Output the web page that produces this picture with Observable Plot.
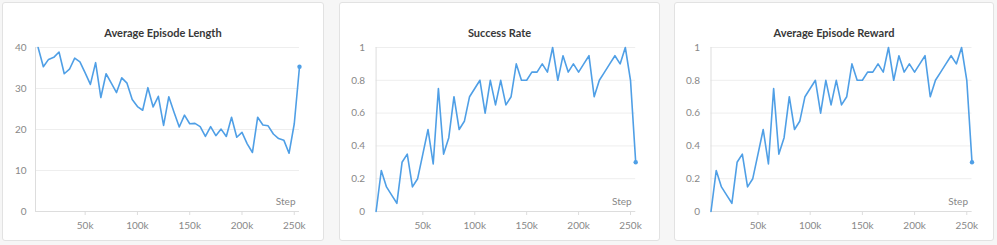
<!DOCTYPE html>
<html><head><meta charset="utf-8">
<script src="https://cdn.jsdelivr.net/npm/d3@7"></script>
<script src="https://cdn.jsdelivr.net/npm/@observablehq/plot@0.6"></script>
<style>
body{margin:0;background:#f6f6f6;width:997px;height:245px;position:relative;overflow:hidden;font-family:Lato,"Noto Sans",sans-serif}
.card{position:absolute;top:2px;height:239px;background:#fff;border:1px solid #e2e2e2;border-radius:3px;box-sizing:border-box}
.title{position:absolute;top:23px;left:0;right:0;text-align:center;font-weight:bold;font-size:11px;color:#383838}
.card svg{position:absolute;left:0;top:0;background:transparent}
</style></head><body>
<div class="card" id="c1" style="left:2px;width:322px"><div class="title">Average Episode Length</div></div>
<div class="card" id="c2" style="left:339px;width:321px"><div class="title">Success Rate</div></div>
<div class="card" id="c3" style="left:674px;width:320px"><div class="title">Average Episode Reward</div></div>
<script>
const steps = [5000,10000,15000,20000,25000,30000,35000,40000,45000,50000,
  55000,60000,65000,70000,75000,80000,85000,90000,95000,100000,
  105000,110000,115000,120000,125000,130000,135000,140000,145000,150000,
  155000,160000,165000,170000,175000,180000,185000,190000,195000,200000,
  205000,210000,215000,220000,225000,230000,235000,240000,245000,250000,255000];
const episodeLength = [40,35.3,37.1,37.6,38.9,33.6,34.7,37.4,36.5,33.8,
  31,36.3,27.8,33.6,31.3,29,32.6,31.3,27.3,25.6,
  24.7,30.2,25.5,28.1,21,28,24.2,20.6,23.5,21.4,
  21.5,20.7,18.3,20.7,18.5,20.1,18.3,23,18.1,19.3,
  16.5,14.4,23,21.1,20.9,18.9,17.8,17.4,14.2,21.4,35.3];
const successRate = [0,0.25,0.15,0.1,0.05,0.3,0.35,0.15,0.2,0.35,
  0.5,0.29,0.75,0.35,0.45,0.7,0.5,0.55,0.7,0.75,
  0.8,0.6,0.8,0.65,0.8,0.65,0.7,0.9,0.8,0.8,
  0.85,0.85,0.9,0.85,1,0.8,0.95,0.85,0.9,0.85,
  0.9,0.95,0.7,0.8,0.85,0.9,0.95,0.9,1,0.8,0.3];
const episodeReward = [0,0.25,0.15,0.1,0.05,0.3,0.35,0.15,0.2,0.35,
  0.5,0.29,0.75,0.35,0.45,0.7,0.5,0.55,0.7,0.75,
  0.8,0.6,0.8,0.65,0.8,0.65,0.7,0.9,0.8,0.8,
  0.85,0.85,0.9,0.85,1,0.8,0.95,0.85,0.9,0.85,
  0.9,0.95,0.7,0.8,0.85,0.9,0.95,0.9,1,0.8,0.3];
const xTicks = [50000,100000,150000,200000,250000];
const yTicksLength = [0,10,20,30,40];
const yTicksRate = [0,0.2,0.4,0.6,0.8,1];

const BLUE = "#4f9fe6";
function chart(el, values, opts) {
  const data = steps.map((s, i) => ({step: s, v: values[i]}));
  const last = data[data.length - 1];
  const p = Plot.plot({
    width: opts.width, height: 237,
    marginLeft: opts.ml, marginRight: opts.mr, marginTop: 44, marginBottom: 29,
    style: {fontFamily: "Lato, 'Noto Sans', sans-serif", fontSize: "10px", background: "transparent"},
    x: {domain: opts.xd, label: null},
    y: {domain: opts.yd, label: null},
    marks: [
      Plot.gridY(opts.yt, {stroke: "#eeeeee", strokeOpacity: 1}),
      Plot.ruleY([opts.yd[0]], {stroke: "#dddddd"}),
      Plot.ruleX([opts.xd[0]], {stroke: "#dddddd"}),
      Plot.axisY(opts.yt, {tickSize: 0, tickPadding: opts.tp, fill: "#888", label: null, tickFormat: d => String(+d.toFixed(1))}),
      Plot.axisX(xTicks, {tickSize: 4, tickPadding: 6, stroke: "#dddddd", fill: "#888", label: null, tickFormat: d => (d / 1000) + "k"}),
      Plot.text(["Step"], {frameAnchor: "bottom-right", textAnchor: "end", dx: -4, dy: -7, fill: "#888", fontSize: 10}),
      Plot.line(data, {x: "step", y: "v", stroke: BLUE, strokeWidth: 1.6}),
      Plot.dot([last], {x: "step", y: "v", r: 2.2, fill: BLUE, stroke: "none"})
    ]
  });
  document.getElementById(el).appendChild(p);
}
chart("c1", episodeLength, {width: 320, ml: 32, mr: 24, xd: [2500, 255000], yd: [0, 40], yt: yTicksLength, tp: 9});
chart("c2", successRate, {width: 319, ml: 35.6, mr: 23.8, xd: [5000, 255000], yd: [0, 1], yt: yTicksRate, tp: 11});
chart("c3", episodeReward, {width: 318, ml: 35.5, mr: 21.5, xd: [5000, 255000], yd: [0, 1], yt: yTicksRate, tp: 11});
</script>
</body></html>
